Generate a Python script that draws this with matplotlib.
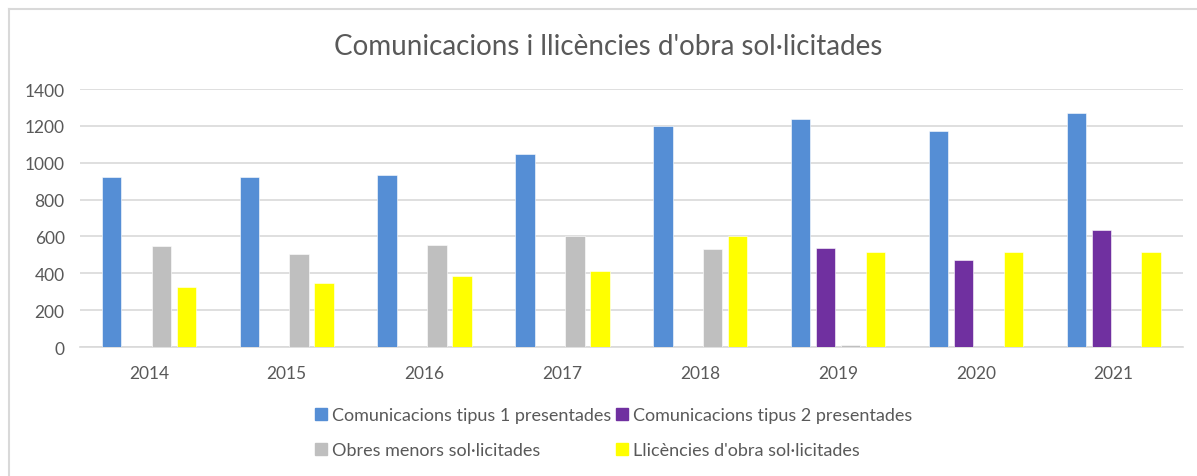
import numpy as np
import matplotlib.pyplot as plt
from matplotlib.lines import Line2D

years = ['2014', '2015', '2016', '2017', '2018', '2019', '2020', '2021']
tipus1 = [920, 924, 936, 1049, 1200, 1235, 1171, 1269]
tipus2 = [0, 0, 0, 0, 0, 536, 473, 635]
obres_menors = [547, 507, 555, 600, 531, 10, 0, 0]
llicencies = [325, 349, 387, 415, 600, 513, 513, 513]

series = [
    ('Comunicacions tipus 1 presentades', tipus1, '#558ed5'),
    ('Comunicacions tipus 2 presentades', tipus2, '#7030a0'),
    ('Obres menors sol·licitades', obres_menors, '#bfbfbf'),
    ('Llicències d\'obra sol·licitades', llicencies, '#ffff00'),
]

plt.rcParams['font.family'] = ['Lato', 'DejaVu Sans']
txt = '#595959'

fig = plt.figure(figsize=(11.97, 4.77), dpi=100)
ax = fig.add_axes([0.0668, 0.2704, 0.9212, 0.5409])

x = np.arange(len(years))
step = 0.181
w = 0.141
for i, (name, vals, col) in enumerate(series):
    ax.bar(x + (i - 1.5) * step, vals, w, color=col, edgecolor='white',
           linewidth=0.4, zorder=3)

ax.set_xlim(-0.5, len(years) - 0.5)
ax.set_ylim(0, 1400)
ax.set_yticks(np.arange(0, 1401, 200))
ax.set_xticks(x)
ax.set_xticklabels(years)
ax.grid(axis='y', color='#d9d9d9', linewidth=1.2, zorder=0)
for s in ['top', 'right', 'left']:
    ax.spines[s].set_visible(False)
ax.spines['bottom'].set_color('#d9d9d9')
ax.spines['bottom'].set_linewidth(1.2)
ax.tick_params(axis='both', length=0, labelsize=12.5, labelcolor=txt)
ax.tick_params(axis='x', pad=13)
ax.tick_params(axis='y', pad=11)

fig.text(0.508, 0.902, 'Comunicacions i llicències d\'obra sol·licitades',
         ha='center', va='center', fontsize=20, color=txt)

# legend: two rows, column-major order
order = [0, 2, 1, 3]
leg_h = [Line2D([], [], marker='s', linestyle='none', markersize=8,
                color=series[k][2]) for k in order]
leg_l = [series[k][0] for k in order]
leg = fig.legend(leg_h, leg_l, ncol=2, loc='center', bbox_to_anchor=(0.513, 0.091),
                 frameon=False, fontsize=13, handlelength=0.6, handletextpad=0.3,
                 columnspacing=0.3, labelspacing=1.05, borderpad=0)
for t in leg.get_texts():
    t.set_color(txt)

# outer chart frame (top and left edges)
fig.add_artist(Line2D([9 / 1197, 1], [1 - 10 / 477, 1 - 10 / 477],
                      color='#d9d9d9', linewidth=1.5, transform=fig.transFigure))
fig.add_artist(Line2D([9 / 1197, 9 / 1197], [0, 1 - 10 / 477],
                      color='#d9d9d9', linewidth=1.5, transform=fig.transFigure))

fig.savefig('out.png', dpi=100)
